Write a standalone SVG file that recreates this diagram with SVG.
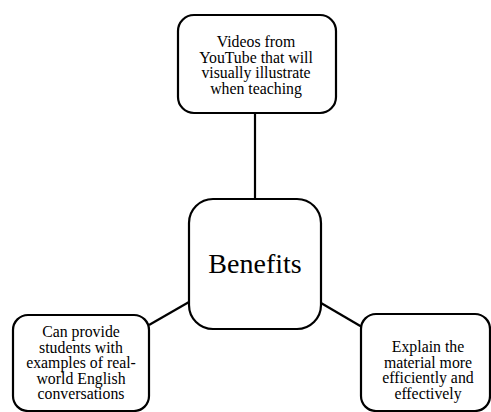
<svg xmlns="http://www.w3.org/2000/svg" width="491" height="412" viewBox="0 0 491 412">
  <style>
    .box { fill: #ffffff; stroke: #000000; stroke-width: 2.2; }
    .link { stroke: #000000; stroke-width: 2.2; fill: none; }
    .lbl { font-family: "Liberation Serif", "Times New Roman", serif; font-size: 15.8px; fill: #000000; text-anchor: middle; }
    .hub { font-family: "Liberation Serif", "Times New Roman", serif; font-size: 28px; fill: #000000; text-anchor: middle; }
  </style>
  <rect width="491" height="412" fill="#ffffff"/>
  <g id="connectors">
    <line class="link" x1="255" y1="113" x2="255" y2="199"/>
    <line class="link" x1="149" y1="325" x2="189" y2="302"/>
    <line class="link" x1="321" y1="303" x2="362" y2="327"/>
  </g>
  <g id="node-top">
    <rect class="box" x="178" y="15" width="158" height="98" rx="16"/>
    <text class="lbl" x="256" y="47">Videos from</text>
    <text class="lbl" x="256" y="62.5">YouTube that will</text>
    <text class="lbl" x="256" y="78">visually illustrate</text>
    <text class="lbl" x="256" y="93.5">when teaching</text>
  </g>
  <g id="node-center">
    <rect class="box" x="189" y="199" width="132" height="130" rx="24"/>
    <text class="hub" x="255" y="273">Benefits</text>
  </g>
  <g id="node-left">
    <rect class="box" x="13" y="315" width="136" height="96" rx="15"/>
    <text class="lbl" x="81" y="337">Can provide</text>
    <text class="lbl" x="81" y="352.5">students with</text>
    <text class="lbl" x="81" y="368">examples of real-</text>
    <text class="lbl" x="81" y="383.5">world English</text>
    <text class="lbl" x="81" y="399">conversations</text>
  </g>
  <g id="node-right">
    <rect class="box" x="361" y="314" width="129" height="97" rx="15"/>
    <text class="lbl" x="428" y="352">Explain the</text>
    <text class="lbl" x="428" y="367.5">material more</text>
    <text class="lbl" x="428" y="383">efficiently and</text>
    <text class="lbl" x="428" y="398.5">effectively</text>
  </g>
</svg>
